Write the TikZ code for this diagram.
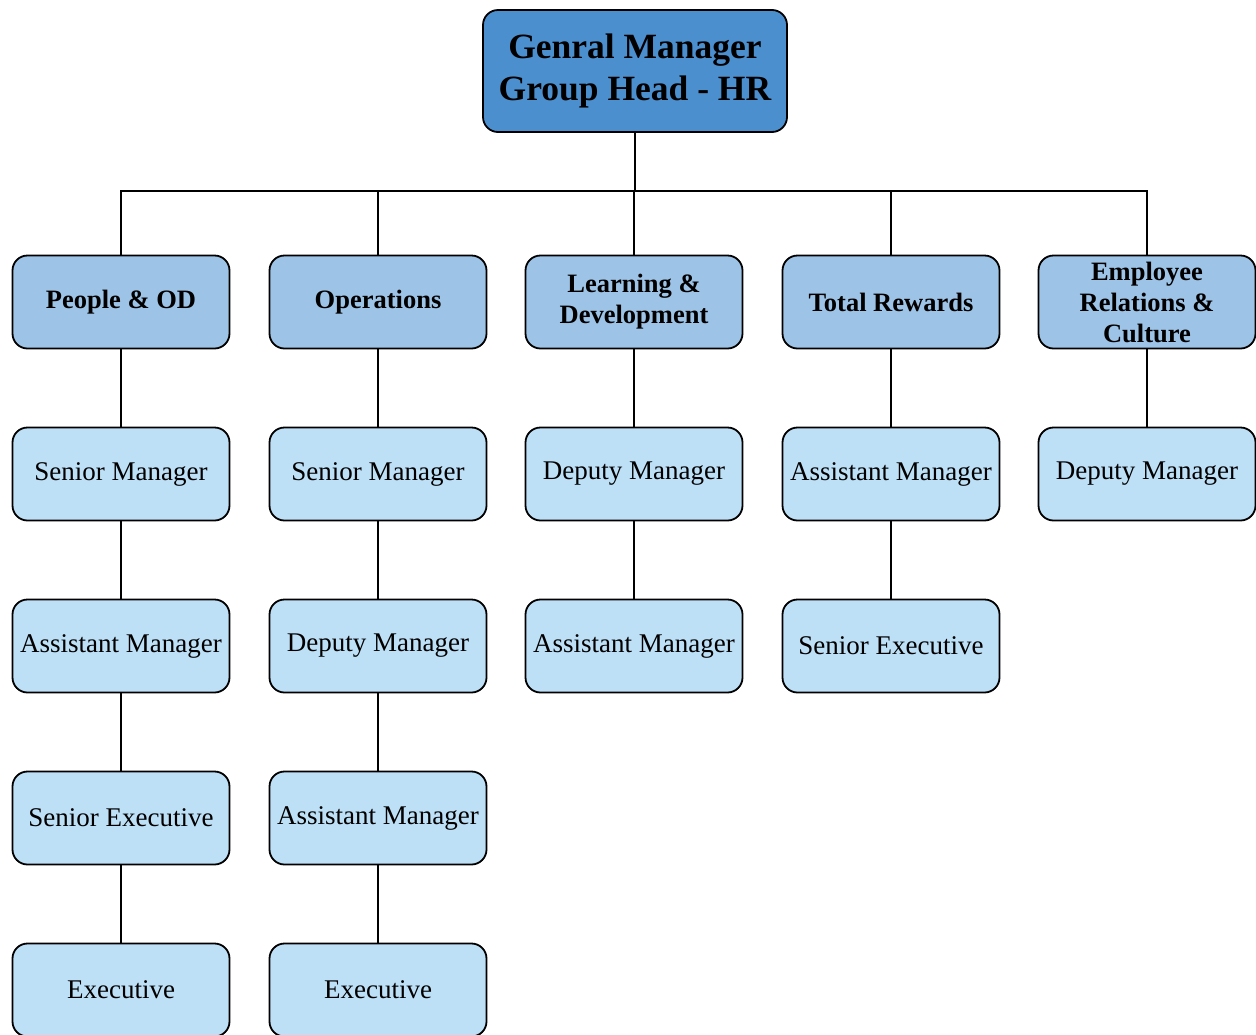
\documentclass[tikz,border=0pt]{standalone}
\usepackage{fontspec}
\setmainfont{Liberation Serif}
\usetikzlibrary{positioning}
\definecolor{topblue}{RGB}{76,143,207}
\definecolor{headblue}{RGB}{157,195,230}
\definecolor{lowblue}{RGB}{189,224,247}
\tikzset{
	box/.style={draw=black, line width=1.8pt, rounded corners=15pt, minimum width=217pt, minimum height=93pt, align=center, inner sep=1pt},
	toprole/.style={box, fill=topblue, minimum width=304pt, minimum height=122pt, font=\fontsize{35.5}{42}\selectfont\bfseries},
	dept/.style={box, fill=headblue, font=\fontsize{26.5}{31}\selectfont\bfseries},
	role/.style={box, fill=lowblue, font=\fontsize{27}{31}\selectfont},
	link/.style={line width=1.8pt}
}
\begin{document}
\begin{tikzpicture}[x=1pt,y=-1pt]
	\useasboundingbox (0,0) rectangle (1256,1034);
	\clip (0,0) rectangle (1256,1034);
	
	\node[toprole] (gm) at (635,71) {Genral Manager\\Group Head - HR};
	\coordinate (bus) at (635,191);
	
	% departments
	\node[dept] (pod) at (121,302) {People \& OD};
	\node[dept] (ops) at (378,302) {Operations};
	\node[dept] (ld) at (634,302) {Learning \&\\Development};
	\node[dept] (tr) at (891,302) {Total Rewards};
	\node[dept] (erc) at (1147,302) {Employee\\Relations \&\\Culture};
	
	% People & OD
	\node[role] (pod1) at (121,474) {Senior Manager};
	\node[role] (pod2) at (121,646) {Assistant Manager};
	\node[role] (pod3) at (121,818) {Senior Executive};
	\node[role] (pod4) at (121,990) {Executive};
	
	% Operations
	\node[role] (ops1) at (378,474) {Senior Manager};
	\node[role] (ops2) at (378,646) {Deputy Manager};
	\node[role] (ops3) at (378,818) {Assistant Manager};
	\node[role] (ops4) at (378,990) {Executive};
	
	% Learning & Development
	\node[role] (ld1) at (634,474) {Deputy Manager};
	\node[role] (ld2) at (634,646) {Assistant Manager};
	
	% Total Rewards
	\node[role] (tr1) at (891,474) {Assistant Manager};
	\node[role] (tr2) at (891,646) {Senior Executive};
	
	% Employee Relations & Culture
	\node[role] (erc1) at (1147,474) {Deputy Manager};
	
	\draw[link] (gm) -- (bus);
	\foreach \d in {pod,ops,ld,tr,erc}
		\draw[link] (bus) -| (\d.north);
	
	\draw[link] (pod) -- (pod1) (pod1) -- (pod2) (pod2) -- (pod3) (pod3) -- (pod4);
	\draw[link] (ops) -- (ops1) (ops1) -- (ops2) (ops2) -- (ops3) (ops3) -- (ops4);
	\draw[link] (ld) -- (ld1) (ld1) -- (ld2);
	\draw[link] (tr) -- (tr1) (tr1) -- (tr2);
	\draw[link] (erc) -- (erc1);
\end{tikzpicture}
\end{document}
